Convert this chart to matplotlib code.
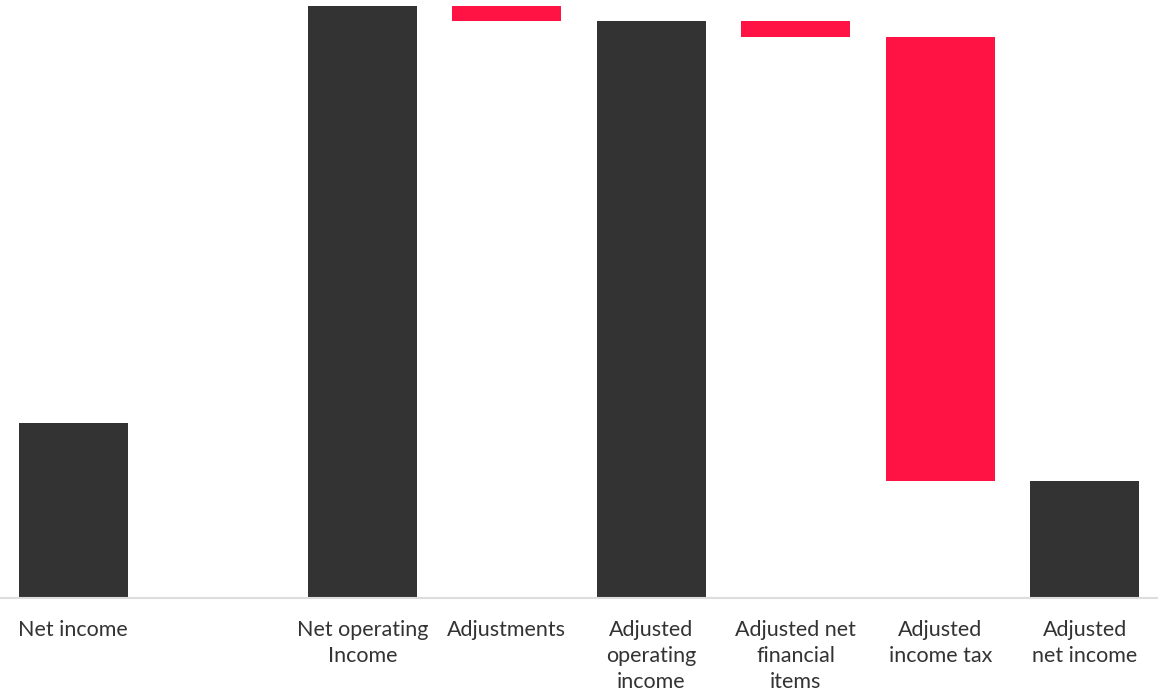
import matplotlib.pyplot as plt

labels = ["Net income", "", "Net operating\nIncome", "Adjustments", "Adjusted\noperating\nincome",
          "Adjusted net\nfinancial\nitems", "Adjusted\nincome tax", "Adjusted\nnet income"]
# bottom and top of each bar (None = empty slot)
bottoms = [0, None, 0, 577, 0, 561, 117, 0]
tops = [175, None, 592, 592, 577, 577, 561, 117]
kinds = ["total", None, "total", "delta", "total", "delta", "delta", "total"]

dark = "#333333"
red = "#ff1244"

def main():
    fig = plt.figure(figsize=(11.66, 6.92), dpi=100)
    ax = fig.add_axes([1 / 1166, 94 / 692, 1156 / 1166, 592 / 692])
    for i, (b, t, k) in enumerate(zip(bottoms, tops, kinds)):
        if k is None:
            continue
        ax.bar(i, t - b, bottom=b, width=0.755, color=dark if k == "total" else red, linewidth=0)
    ax.set_xlim(-0.5, 7.5)
    ax.set_ylim(0, 592)
    for s in ["top", "right", "left"]:
        ax.spines[s].set_visible(False)
    ax.spines["bottom"].set_color("#dddddd")
    ax.spines["bottom"].set_linewidth(1.5)
    ax.set_yticks([])
    ax.set_xticks(range(len(labels)))
    ax.set_xticklabels(labels, fontsize=15.5, color="#333333", family=["Lato", "DejaVu Sans"],
                       linespacing=1.37, va="top")
    ax.tick_params(axis="x", length=0, pad=16)
    fig.savefig("out.png", dpi=100)

if __name__ == "__main__":
    main()
